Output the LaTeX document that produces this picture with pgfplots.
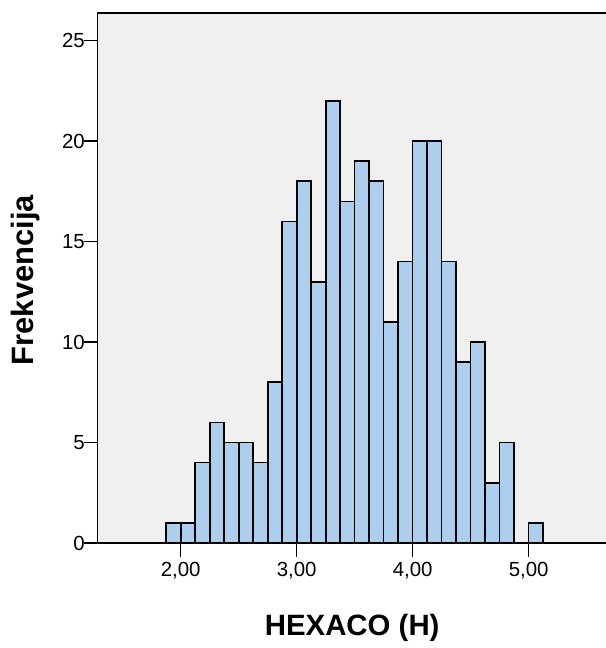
\documentclass[border=0pt]{standalone}
\usepackage{pgfplots}
\pgfplotsset{compat=1.18}
\usepackage{fontspec}
\setmainfont{Liberation Sans}
\usetikzlibrary{calc}
\definecolor{plotbg}{RGB}{240,240,240}
\definecolor{barfill}{RGB}{173,207,237}
\begin{document}
\begin{tikzpicture}
\begin{axis}[
  name=ax,
  scale only axis,
  width=508.8bp, height=530bp,
  xmin=1.285, xmax=5.672,
  ymin=0, ymax=26.37,
  axis background/.style={fill=plotbg},
  axis line style={black, line width=1.3bp},
  xtick={2,3,4,5},
  xticklabels={{2,00},{3,00},{4,00},{5,00}},
  ytick={0,5,10,15,20,25},
  xtick pos=bottom, ytick pos=left,
  tick align=outside,
  major tick length=14bp,
  tick style={black, line width=1.3bp},
  ticklabel style={font=\fontsize{20.5}{22}\selectfont},
  /pgf/number format/assume math mode=true,
  xticklabel style={yshift=-1.5bp},
  yticklabel style={xshift=4.5bp},
  xlabel={HEXACO (H)},
  ylabel={Frekvencija},
  xlabel style={font=\bfseries\fontsize{29.5}{32}\selectfont, at={(axis description cs:0.5,-0.160)}, anchor=center},
  ylabel style={font=\bfseries\fontsize{31}{34}\selectfont, at={(axis description cs:-0.1417,0.496)}, anchor=center},
  clip=false,
]
\addplot[ybar, bar width=0.125, bar shift=0pt, fill=barfill, draw=black, line width=1.6bp]
coordinates {
(1.9375,1) (2.0625,1) (2.1875,4) (2.3125,6) (2.4375,5) (2.5625,5)
(2.6875,4) (2.8125,8) (2.9375,16) (3.0625,18) (3.1875,13) (3.3125,22)
(3.4375,17) (3.5625,19) (3.6875,18) (3.8125,11) (3.9375,14) (4.0625,20)
(4.1875,20) (4.3125,14) (4.4375,9) (4.5625,10) (4.6875,3) (4.8125,5)
(5.0625,1)
};
\end{axis}
\pgfresetboundingbox
\useasboundingbox ($(ax.south west)+(-97.8bp,-105bp)$) rectangle ($(ax.north east)+(-0.8bp,13bp)$);
\end{tikzpicture}
\end{document}
